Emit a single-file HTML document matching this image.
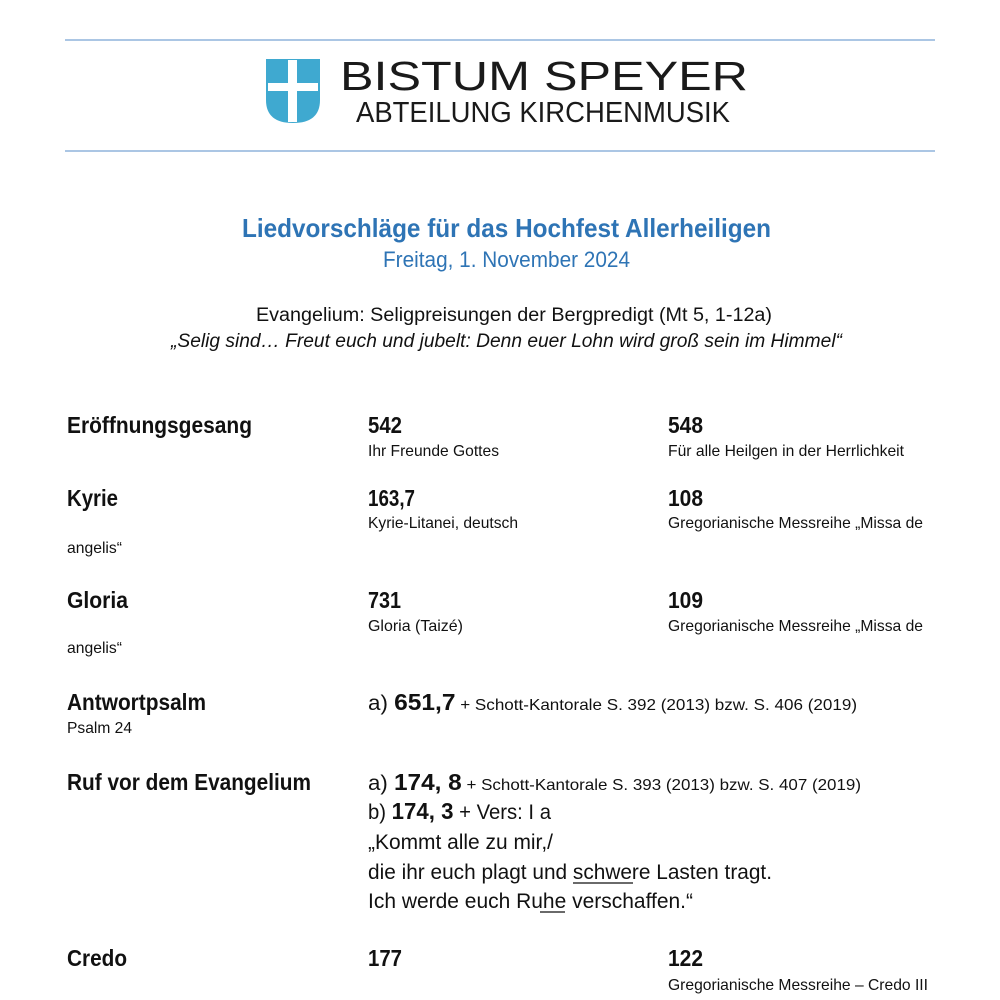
<!DOCTYPE html>
<html><head><meta charset="utf-8"><style>html,body{margin:0;padding:0;background:#fff;}svg{display:block}</style></head>
<body>
<svg width="1000" height="1000" xmlns="http://www.w3.org/2000/svg" font-family="Liberation Sans, Arial, sans-serif" fill="#111">
<line x1="65" y1="40" x2="935" y2="40" stroke="#8fb3dc" stroke-width="1.5"/>
<line x1="65" y1="151" x2="935" y2="151" stroke="#8fb3dc" stroke-width="1.5"/>
<path d="M266 59 H320 V100 Q320 123 293 123 Q266 123 266 100 Z" fill="#3fa9d0"/>
<rect x="288" y="60" width="9" height="62" fill="#fff"/>
<rect x="268" y="83" width="50" height="8" fill="#fff"/>
<text x="340" y="90" font-size="41" textLength="408" lengthAdjust="spacingAndGlyphs" fill="#1a1a1a">BISTUM SPEYER</text>
<text x="356" y="122" font-size="29" textLength="374" lengthAdjust="spacingAndGlyphs" fill="#1a1a1a">ABTEILUNG KIRCHENMUSIK</text>

<text x="242" y="237" font-size="26" font-weight="bold" fill="#2e74b5" textLength="529" lengthAdjust="spacingAndGlyphs">Liedvorschläge für das Hochfest Allerheiligen</text>
<text x="383" y="267" font-size="22" fill="#2e74b5" textLength="247" lengthAdjust="spacingAndGlyphs">Freitag, 1. November 2024</text>
<text x="256" y="321" font-size="19" textLength="516" lengthAdjust="spacingAndGlyphs">Evangelium: Seligpreisungen der Bergpredigt (Mt 5, 1-12a)</text>
<text x="171" y="347" font-size="19" font-style="italic" textLength="671" lengthAdjust="spacingAndGlyphs">„Selig sind… Freut euch und jubelt: Denn euer Lohn wird groß sein im Himmel“</text>

<g font-weight="bold" font-size="23">
<text x="67" y="433" textLength="185" lengthAdjust="spacingAndGlyphs">Eröffnungsgesang</text>
<text x="67" y="506" textLength="51" lengthAdjust="spacingAndGlyphs">Kyrie</text>
<text x="67" y="608" textLength="61" lengthAdjust="spacingAndGlyphs">Gloria</text>
<text x="67" y="710" textLength="139" lengthAdjust="spacingAndGlyphs">Antwortpsalm</text>
<text x="67" y="790" textLength="244" lengthAdjust="spacingAndGlyphs">Ruf vor dem Evangelium</text>
<text x="67" y="966" textLength="60" lengthAdjust="spacingAndGlyphs">Credo</text>
<text x="368" y="433" textLength="34" lengthAdjust="spacingAndGlyphs">542</text>
<text x="668" y="433" textLength="35" lengthAdjust="spacingAndGlyphs">548</text>
<text x="368" y="506" textLength="47" lengthAdjust="spacingAndGlyphs">163,7</text>
<text x="668" y="506" textLength="35" lengthAdjust="spacingAndGlyphs">108</text>
<text x="368" y="608" textLength="33" lengthAdjust="spacingAndGlyphs">731</text>
<text x="668" y="608" textLength="35" lengthAdjust="spacingAndGlyphs">109</text>
<text x="368" y="966" textLength="34" lengthAdjust="spacingAndGlyphs">177</text>
<text x="668" y="966" textLength="35" lengthAdjust="spacingAndGlyphs">122</text>
</g>
<g font-size="16">
<text x="368" y="456" textLength="131" lengthAdjust="spacingAndGlyphs">Ihr Freunde Gottes</text>
<text x="668" y="456" textLength="236" lengthAdjust="spacingAndGlyphs">Für alle Heilgen in der Herrlichkeit</text>
<text x="368" y="528" textLength="150" lengthAdjust="spacingAndGlyphs">Kyrie-Litanei, deutsch</text>
<text x="668" y="528" textLength="255" lengthAdjust="spacingAndGlyphs">Gregorianische Messreihe „Missa de</text>
<text x="67" y="553" textLength="55" lengthAdjust="spacingAndGlyphs">angelis“</text>
<text x="368" y="631" textLength="95" lengthAdjust="spacingAndGlyphs">Gloria (Taizé)</text>
<text x="668" y="631" textLength="255" lengthAdjust="spacingAndGlyphs">Gregorianische Messreihe „Missa de</text>
<text x="67" y="653" textLength="55" lengthAdjust="spacingAndGlyphs">angelis“</text>
<text x="67" y="733" textLength="65" lengthAdjust="spacingAndGlyphs">Psalm 24</text>
<text x="668" y="990" textLength="260" lengthAdjust="spacingAndGlyphs">Gregorianische Messreihe – Credo III</text>
</g>
<text x="368" y="710" font-size="21" textLength="489" lengthAdjust="spacingAndGlyphs">a) <tspan font-weight="bold" font-size="23">651,7</tspan><tspan font-size="16"> + Schott-Kantorale S. 392 (2013) bzw. S. 406 (2019)</tspan></text>
<text x="368" y="790" font-size="21" textLength="493" lengthAdjust="spacingAndGlyphs">a) <tspan font-weight="bold" font-size="23">174, 8</tspan><tspan font-size="16"> + Schott-Kantorale S. 393 (2013) bzw. S. 407 (2019)</tspan></text>
<text x="368" y="819" font-size="21" textLength="183" lengthAdjust="spacingAndGlyphs">b) <tspan font-weight="bold" font-size="23">174, 3</tspan> + Vers: I a</text>
<g font-size="21">
<text x="368" y="849" textLength="185" lengthAdjust="spacingAndGlyphs">„Kommt alle zu mir,/</text>
<text x="368" y="879" textLength="404" lengthAdjust="spacingAndGlyphs">die ihr euch plagt und schwere Lasten tragt.</text>
<text x="368" y="908" textLength="325" lengthAdjust="spacingAndGlyphs">Ich werde euch Ruhe verschaffen.“</text>
</g>
<line x1="573" y1="883" x2="633" y2="883" stroke="#111" stroke-width="1.3"/>
<line x1="540" y1="912" x2="565" y2="912" stroke="#111" stroke-width="1.3"/>
</svg>
</body></html>
